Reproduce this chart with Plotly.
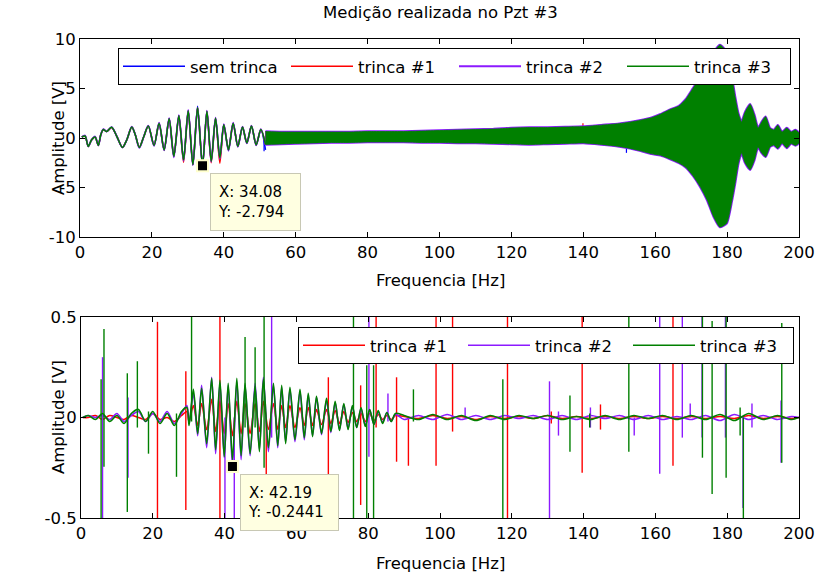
import plotly.graph_objects as go

W, H = 821, 576
FONT = "DejaVu Sans"
BLUE, RED, PURPLE, GREEN = "#0000ff", "#ff0000", "#8c1aff", "#008000"

# ---------------- upper panel: measured response ----------------
# extrema of the low-frequency part (Hz)
low_freq = [0.5, 1.4, 2.3, 3.2, 4.2, 5.1, 5.8, 6.5, 7.4, 8.8, 10.2, 11.8, 13.0,
            14.4, 15.4, 16.5, 17.7, 19.0, 20.6, 22.0, 23.4, 24.8, 26.1, 27.5,
            28.8, 30.1, 31.4, 32.7, 34.08, 35.3, 36.5, 37.7, 38.9, 40.0, 41.3,
            42.6, 43.9, 45.2, 46.4, 47.7, 49.0, 50.3, 51.6]
sem_trinca_low = [0.1, 0.2, -0.85, -0.2, 0.1, -0.75, 0.35, 0.85, 0.65, 1.08, 0.2,
                  -0.95, -0.2, 1.1, 0.3, -0.95, 0.1, 1.2, -0.75, 1.5, -1.2, 1.95,
                  -1.85, 2.25, -2.2, 2.75, -2.7, 3.2, -2.794, 2.7, -2.35, 2.0,
                  -2.0, 1.35, -1.2, 1.5, -0.85, 1.1, -0.5, 1.2, -0.7, 0.85, -1.2]
trinca1_low = [0.1, 0.2, -0.85, -0.2, 0.1, -0.75, 0.35, 0.85, 0.65, 1.05, 0.2,
               -0.95, -0.2, 1.1, 0.3, -0.95, 0.1, 1.2, -0.75, 1.5, -1.2, 1.95,
               -1.85, 2.25, -2.45, 2.75, -2.7, 3.05, -2.794, 2.7, -2.5, 2.0,
               -2.55, 1.35, -1.2, 1.5, -0.85, 1.1, -0.5, 1.2, -0.7, 0.85, -0.65]
trinca2_low = [0.1, 0.25, -0.85, -0.2, 0.15, -0.75, 0.35, 0.9, 0.65, 1.1, 0.2,
               -0.95, -0.2, 1.15, 0.3, -1.0, 0.1, 1.25, -0.8, 1.55, -1.25, 2.0,
               -1.95, 2.3, -2.3, 2.85, -2.75, 3.0, -2.794, 2.75, -2.4, 2.05,
               -2.1, 1.4, -1.3, 1.55, -0.9, 1.15, -0.55, 1.25, -0.75, 0.9, -0.7]
trinca3_low = [0.1, 0.2, -0.85, -0.2, 0.1, -0.75, 0.35, 0.85, 0.65, 1.08, 0.2,
               -0.95, -0.2, 1.1, 0.3, -0.95, 0.1, 1.2, -0.75, 1.5, -1.2, 1.95,
               -1.85, 2.25, -2.2, 2.75, -2.7, 3.05, -2.794, 2.7, -2.35, 2.0,
               -2.0, 1.35, -1.2, 1.5, -0.85, 1.1, -0.5, 1.2, -0.7, 0.85, -0.65]

# envelope of the dense high-frequency part (Hz, V)
band_freq = [51.6, 56, 60, 65, 70, 75, 80, 85, 90, 95, 100, 105, 110, 115, 120,
             125, 130, 135, 140, 145, 150, 153, 156, 159, 161.5, 164, 166.5,
             168.5, 170.5, 172.5, 174.5, 176.2, 178.0, 179.9, 181.3, 182.2,
             183.1, 184.0, 185.0, 186.4, 187.6, 188.6, 189.6, 190.7, 191.9,
             193.0, 194.1, 195.3, 196.6, 197.8, 199.0, 200.0]
band_upper = [0.65, 0.6, 0.6, 0.6, 0.6, 0.6, 0.65, 0.65, 0.65, 0.7, 0.75, 0.8,
              0.85, 0.9, 1.0, 1.05, 1.05, 1.1, 1.15, 1.3, 1.45, 1.6, 1.8, 2.05,
              2.4, 2.85, 3.2, 3.9, 5.0, 6.1, 7.2, 8.6, 9.4, 8.7, 6.2, 4.2, 2.5,
              1.6, 2.6, 3.4, 2.3, 1.0, 1.6, 2.15, 1.0, 0.8, 1.3, 0.6, 1.0, 0.6,
              0.8, 0.5]
band_lower = [-0.65, -0.6, -0.55, -0.5, -0.45, -0.45, -0.4, -0.4, -0.4, -0.45,
              -0.45, -0.5, -0.5, -0.55, -0.6, -0.65, -0.6, -0.55, -0.5, -0.65,
              -0.85, -1.05, -1.3, -1.6, -1.75, -2.1, -2.5, -2.95, -3.8, -4.9,
              -6.3, -7.9, -9.0, -8.6, -6.4, -4.6, -2.6, -1.5, -2.5, -3.2, -2.2,
              -0.9, -1.5, -1.9, -0.9, -0.7, -1.05, -0.5, -1.0, -0.55, -0.75, -0.5]

# isolated glitches in the upper panel (Hz, top V, bottom V)
sem_trinca_spk = ([51.2, 152.0], [0.0, 0.0], [-1.35, -1.5])
trinca1_spk = ([118.7, 139.9], [1.1, 1.5], [0.0, 0.0])

# ---------------- lower panel: difference to "sem trinca" ----------------
diff_freq = [0.5, 2, 4, 6, 8, 10, 12, 14, 16, 18, 20, 22, 24, 26, 28, 29.5,
             30.1, 31.3, 32.5, 33.6, 35.0, 36.4, 37.5, 38.7, 39.9, 41.0, 42.19,
             43.4, 44.6, 45.7, 47.1, 48.5, 49.7, 50.8, 52.2, 53.6, 54.8, 55.9,
             57.0, 58.2, 59.6, 61.0, 62.2, 63.3, 64.5, 65.6, 67.0, 68.4, 69.6,
             70.8, 72.0, 73.2, 74.4, 75.6, 76.8, 78.0, 79.2, 80.4, 81.6, 82.8,
             84.0, 85.2, 86.4, 87.6,
             90, 94, 98, 102, 106, 110, 114, 118, 122, 126, 130, 134, 138, 142,
             146, 150, 154, 158, 162, 166, 170, 174, 178, 182, 186, 190, 194,
             198, 200]
trinca1_diff = [0.0, 0.0, 0.01, -0.01, 0.01, 0.0, -0.01, 0.01, 0.0, -0.01, 0.02,
                -0.01, 0.0, -0.02, 0.01, 0.03,
                -0.02, 0.06, -0.04, 0.07, -0.06, 0.09, -0.07, 0.08, -0.08, 0.07,
                -0.09, 0.08, -0.08, 0.07, -0.08, 0.07, -0.07, 0.08, -0.06, 0.07,
                -0.06, 0.06, -0.05, 0.06, -0.05, 0.05, -0.04, 0.05, -0.04, 0.04,
                -0.035, 0.04, -0.03, 0.035, -0.03, 0.03, -0.025, 0.025, -0.02,
                0.02, -0.02, 0.02, -0.015, 0.015, -0.01, 0.01, -0.01, 0.01,
                0.005, -0.005, 0.01, -0.005, 0.005, -0.01, 0.005, -0.005, 0.005,
                -0.005, 0.01, -0.005, 0.005, -0.005, 0.005, -0.005, 0.005,
                -0.005, 0.005, -0.005, 0.005, -0.005, 0.005, -0.005, 0.01,
                -0.005, 0.005, -0.005, 0.0]
trinca2_diff = [0.0, 0.01, 0.0, 0.01, -0.01, 0.02, -0.02, 0.01, 0.03, -0.02, 0.02,
                -0.02, 0.03, -0.03, 0.02, 0.06,
                -0.03, 0.12, -0.09, 0.16, -0.15, 0.2, -0.18, 0.17, -0.2, 0.16,
                -0.2441, 0.18, -0.21, 0.16, -0.19, 0.17, -0.16, 0.2, -0.17, 0.16,
                -0.15, 0.15, -0.12, 0.14, -0.12, 0.13, -0.11, 0.11, -0.09, 0.1,
                -0.085, 0.085, -0.075, 0.075, -0.06, 0.065, -0.055, 0.055, -0.05,
                0.045, -0.04, 0.04, -0.035, 0.03, -0.025, 0.025, -0.02, 0.015,
                -0.01, 0.01, -0.01, 0.015, -0.01, 0.01, -0.01, 0.01, -0.005,
                0.01, -0.01, 0.01, -0.01, 0.01, -0.005, 0.01, -0.01, 0.01,
                -0.01, 0.005, -0.01, 0.01, -0.015, 0.015, -0.01, 0.01, -0.01,
                0.005, 0.0]
trinca3_diff = [0.0, 0.01, -0.01, 0.02, -0.02, 0.01, -0.03, 0.02, 0.04, -0.02,
                0.03, -0.03, 0.02, -0.04, 0.03, 0.05,
                -0.04, 0.14, -0.08, 0.145, -0.13, 0.195, -0.16, 0.185, -0.195,
                0.17, -0.21, 0.195, -0.19, 0.17, -0.18, 0.155, -0.17, 0.19,
                -0.15, 0.17, -0.14, 0.16, -0.13, 0.15, -0.11, 0.14, -0.1, 0.12,
                -0.095, 0.105, -0.08, 0.095, -0.07, 0.08, -0.065, 0.07, -0.06,
                0.06, -0.05, 0.05, -0.045, 0.04, -0.035, 0.035, -0.03, 0.025,
                -0.02, 0.02,
                0.01, -0.01, 0.015, -0.01, 0.01, -0.015, 0.01, -0.01, 0.01,
                -0.005, 0.01, -0.01, 0.005, -0.01, 0.01, -0.01, 0.01, -0.005,
                0.01, -0.01, 0.01, -0.01, 0.015, -0.015, 0.02, -0.01, 0.01,
                -0.01, 0.0]

# glitches in the difference signals (Hz, top V, bottom V)
trinca1_dspk = ([21.3, 29.2, 38.7, 51.6, 68.9, 77.9, 82.2, 87.9, 91.2, 98.9,
                 103.5, 118.8, 131.0, 139.6, 144.7, 164.9],
                [0.476, 0.23, 0.6, 0.0, 0.2, 0.16, 0.6, 0.2, 0.0, 0.6, 0.6, 0.6,
                 0.03, 0.6, 0.065, 0.6],
                [-0.6, -0.46, -0.6, -0.6, -0.3, -0.435, -0.05, -0.22, -0.24,
                 -0.24, -0.07, -0.6, -0.03, -0.275, -0.06, -0.24])
trinca2_dspk = ([6.0, 13.1, 40.1, 42.7, 53.1, 80.2, 85.5, 107.0, 130.5, 133.0,
                 141.9, 154.1, 161.2, 167.5, 169.7, 173.0, 179.5, 184.4, 186.9,
                 195.0],
                [0.3, 0.1, 0.0, 0.0, 0.6, 0.6, 0.12, 0.05, 0.18, 0.03, 0.05, 0.0,
                 0.6, 0.6, 0.07, 0.6, 0.6, 0.0, 0.07, 0.085],
                [-0.5, -0.3, -0.6, -0.6, -0.1, -0.195, -0.02, 0.0, -0.5, -0.09,
                 -0.05, -0.09, -0.28, -0.1, 0.0, -0.1, -0.1, -0.45, -0.05, -0.225])
trinca3_dspk = ([5.6, 6.4, 12.9, 15.7, 18.8, 26.6, 30.8, 45.7, 48.5, 51.0, 75.9,
                 79.6, 81.5, 92.6, 117.5, 136.2, 141.7, 152.6, 173.1, 175.8,
                 179.7, 183.6, 184.5, 195.2],
                [0.19, 0.44, 0.22, 0.28, 0.03, 0.02, 0.6, 0.4, 0.35, 0.6, 0.6,
                 0.26, 0.26, 0.14, 0.19, 0.11, 0.02, 0.6, 0.6, 0.48, 0.6, 0.05,
                 0.0, 0.47],
                [-0.6, -0.245, -0.47, -0.05, -0.18, -0.295, -0.02, -0.05, -0.05,
                 -0.25, -0.6, -0.6, -0.55, -0.02, -0.6, -0.17, -0.05, -0.17, -0.2,
                 -0.38, -0.3, -0.09, -0.6, -0.225])

# data tips
tip1 = (34.08, -2.794)
tip2 = (42.19, -0.2441)


def spike_xy(spk):
    xs, ys = [], []
    for x, hi, lo in zip(*spk):
        xs += [x, x, None]
        ys += [hi, lo, None]
    return xs, ys


fig = go.Figure()

top_series = [
    ("sem trinca", BLUE, sem_trinca_low, sem_trinca_spk),
    ("trinca #1", RED, trinca1_low, trinca1_spk),
    ("trinca #2", PURPLE, trinca2_low, None),
    ("trinca #3", GREEN, trinca3_low, None),
]
poly_x = band_freq + band_freq[::-1]
poly_y = band_upper + band_lower[::-1]
for name, col, low, spk in top_series:
    edge = 2.5 if col == PURPLE else 0.8
    fig.add_trace(go.Scatter(
        x=poly_x, y=poly_y, fill="toself", fillcolor=col, mode="lines",
        line=dict(color=col, width=edge, shape="spline", smoothing=0.5),
        legendgroup=name, showlegend=False, hoverinfo="skip",
        xaxis="x", yaxis="y"))
    fig.add_trace(go.Scatter(
        x=low_freq, y=low, mode="lines", name=name,
        line=dict(color=col, width=1.8 if col == PURPLE else 1.5,
                  shape="spline", smoothing=0.8),
        legendgroup=name, legend="legend", xaxis="x", yaxis="y"))
    if spk:
        sx, sy = spike_xy(spk)
        fig.add_trace(go.Scatter(
            x=sx, y=sy, mode="lines", line=dict(color=col, width=1.2),
            legendgroup=name, showlegend=False, hoverinfo="skip",
            xaxis="x", yaxis="y"))

bottom_series = [
    ("trinca #1", RED, trinca1_diff, trinca1_dspk),
    ("trinca #2", PURPLE, trinca2_diff, trinca2_dspk),
    ("trinca #3", GREEN, trinca3_diff, trinca3_dspk),
]
for name, col, vals, spk in bottom_series:
    fig.add_trace(go.Scatter(
        x=diff_freq, y=vals, mode="lines", name=name,
        line=dict(color=col, width=1.6, shape="spline", smoothing=0.8),
        legendgroup="d" + name, legend="legend2", xaxis="x2", yaxis="y2"))
    sx, sy = spike_xy(spk)
    fig.add_trace(go.Scatter(
        x=sx, y=sy, mode="lines", line=dict(color=col, width=1.4),
        legendgroup="d" + name, showlegend=False, hoverinfo="skip",
        xaxis="x2", yaxis="y2"))

# data tip markers
for (tx, ty), xa, ya in [(tip1, "x", "y"), (tip2, "x2", "y2")]:
    fig.add_trace(go.Scatter(
        x=[tx], y=[ty], mode="markers", showlegend=False, hoverinfo="skip",
        marker=dict(symbol="square", size=11, color="black",
                    line=dict(color="#ffffcc", width=2)),
        xaxis=xa, yaxis=ya))

axis_font = dict(family=FONT, size=16.5, color="black")
base_axis = dict(showline=True, linecolor="black", linewidth=1, mirror="ticks",
                 ticks="inside", ticklen=5, tickcolor="black", showgrid=False,
                 zeroline=False, tickfont=axis_font, automargin=False)
xticks = list(range(0, 201, 20))

legend_style = dict(xanchor="left", yanchor="top", orientation="h",
                    bgcolor="white", bordercolor="black", borderwidth=1,
                    font=axis_font, itemwidth=62)

fig.update_layout(
    width=W, height=H, margin=dict(l=0, r=0, t=0, b=0, autoexpand=False),
    paper_bgcolor="white", plot_bgcolor="white", showlegend=True,
    xaxis=dict(base_axis, domain=[80 / W, 799 / W], range=[0, 200],
               tickvals=xticks, ticktext=[str(v) for v in xticks], anchor="y"),
    yaxis=dict(base_axis, domain=[1 - 237 / H, 1 - 39 / H], range=[-10, 10],
               tickvals=[-10, -5, 0, 5, 10],
               ticktext=["-10", "-5", "0", "5", "10"], anchor="x"),
    xaxis2=dict(base_axis, domain=[81 / W, 799 / W], range=[0, 200],
                tickvals=xticks, ticktext=[str(v) for v in xticks], anchor="y2"),
    yaxis2=dict(base_axis, domain=[1 - 518 / H, 1 - 317 / H], range=[-0.5, 0.5],
                tickvals=[-0.5, 0, 0.5], ticktext=["-0.5", "0", "0.5"],
                anchor="x2"),
    legend=dict(legend_style, x=118 / W, y=1 - 48 / H, entrywidth=91),
    legend2=dict(legend_style, x=298 / W, y=1 - 327 / H, entrywidth=88),
)

text_font = dict(family=FONT, size=16.5, color="black")
ann = [
    dict(text="Medição realizada no Pzt #3", x=440 / W, y=1 - 12 / H),
    dict(text="Frequencia [Hz]", x=440 / W, y=1 - 280 / H),
    dict(text="Frequencia [Hz]", x=440 / W, y=1 - 563 / H),
    dict(text="Amplitude [V]", x=58 / W, y=1 - 138 / H, textangle=-90),
    dict(text="Amplitude [V]", x=58 / W, y=1 - 417 / H, textangle=-90),
]
for a in ann:
    fig.add_annotation(xref="paper", yref="paper", showarrow=False,
                       font=text_font, xanchor="center", yanchor="middle", **a)

tip_font = dict(family=FONT, size=15, color="black")
fig.add_annotation(x=tip1[0], y=tip1[1], xref="x", yref="y", showarrow=False,
                   text=f"X: {tip1[0]:.2f}<br>Y: {tip1[1]:.3f}", align="left",
                   xanchor="left", yanchor="top", xshift=7, yshift=-7,
                   bgcolor="#ffffe1", bordercolor="#c8c8b4", borderwidth=1,
                   borderpad=7, width=75, height=42, font=tip_font)
fig.add_annotation(x=tip2[0], y=tip2[1], xref="x2", yref="y2", showarrow=False,
                   text=f"X: {tip2[0]:.2f}<br>Y: {tip2[1]:.4f}", align="left",
                   xanchor="left", yanchor="top", xshift=8, yshift=-7,
                   bgcolor="#ffffe1", bordercolor="#c8c8b4", borderwidth=1,
                   borderpad=7, width=83, height=41, font=tip_font)

fig.write_html("out.html")
